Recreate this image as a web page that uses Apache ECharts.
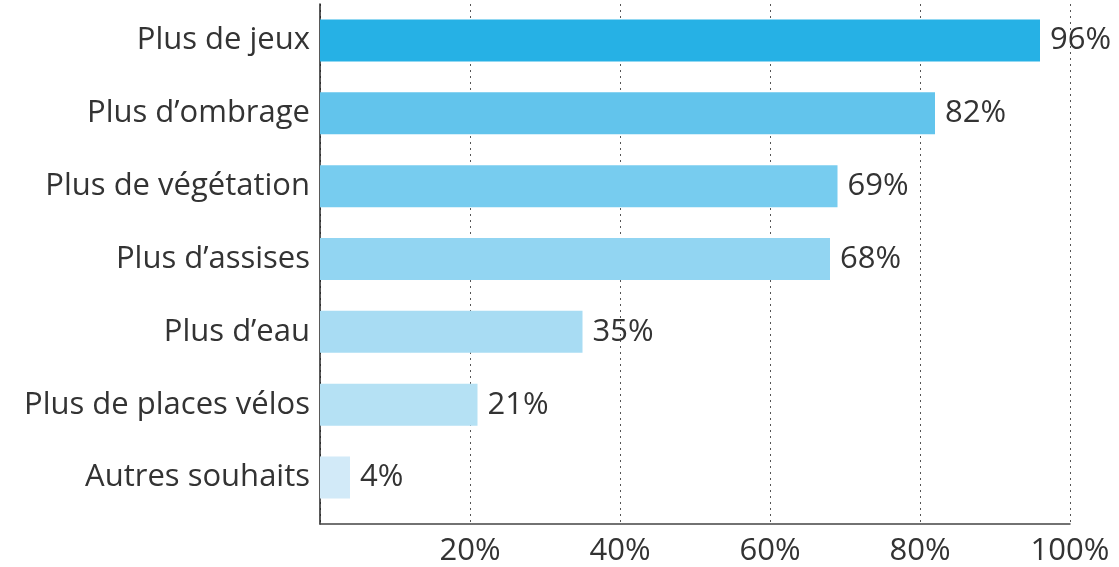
<!DOCTYPE html>
<html>
<head>
<meta charset="utf-8">
<script src="https://cdn.jsdelivr.net/npm/echarts@6/dist/echarts.min.js"></script>
<style>
  html, body { margin: 0; padding: 0; background: #fff; }
  #chart { width: 1119px; height: 567px; }
</style>
</head>
<body>
<div id="chart"></div>
<script>
const categories = ['Plus de jeux', 'Plus d\u2019ombrage', 'Plus de végétation', 'Plus d\u2019assises', 'Plus d\u2019eau', 'Plus de places vélos', 'Autres souhaits'];
const values = [96, 82, 69, 68, 35, 21, 4];
const barColors = ['#26b1e5', '#62c4ec', '#77ccef', '#92d5f2', '#a8dcf3', '#b5e1f4', '#d2eaf8'];
const tickValues = [20, 40, 60, 80, 100];

const font = '"Open Sans", sans-serif';
const textSize = 31;

const chart = echarts.init(document.getElementById('chart'));
chart.setOption({
  animation: false,
  // grid 0 holds the bars, grid 1 (a bit taller) holds the frame and the % scale
  grid: [
    { left: 320, right: 49, top: 4, bottom: 53 },
    { left: 320, right: 49, top: 4, bottom: 41 }
  ],
  xAxis: [{
    gridIndex: 0,
    type: 'value',
    min: 0,
    max: 100,
    interval: 20,
    axisLine: { show: false },
    axisTick: { show: false },
    splitLine: { show: false },
    axisLabel: { show: false }
  }, {
    gridIndex: 1,
    type: 'value',
    min: 0,
    max: 100,
    interval: 20,
    axisLine: { show: true, lineStyle: { color: '#444', width: 1.5 } },
    axisTick: { show: false },
    splitLine: { show: true, lineStyle: { type: [2, 4], color: '#555', width: 1 } },
    axisLabel: {
      margin: 12,
      fontFamily: font,
      fontSize: textSize,
      color: '#333',
      formatter: v => tickValues.indexOf(v) >= 0 ? v + '%' : ''
    }
  }],
  yAxis: [{
    gridIndex: 0,
    type: 'category',
    data: categories,
    inverse: true,
    axisLine: { show: false },
    axisTick: { show: false },
    axisLabel: {
      margin: 10,
      fontFamily: font,
      fontSize: textSize,
      color: '#333'
    }
  }, {
    gridIndex: 1,
    type: 'value',
    min: 0,
    max: 1,
    axisLine: { show: true, lineStyle: { color: '#222', width: 1.5 } },
    axisTick: { show: false },
    axisLabel: { show: false },
    splitLine: { show: false }
  }],
  series: [{
    type: 'bar',
    xAxisIndex: 0,
    yAxisIndex: 0,
    barWidth: 42,
    z: 3,
    data: values.map((v, i) => ({ value: v, itemStyle: { color: barColors[i] } })),
    label: {
      show: true,
      position: 'right',
      distance: 10,
      fontFamily: font,
      fontSize: textSize,
      color: '#333',
      formatter: '{c}%'
    }
  }]
});
</script>
</body>
</html>
